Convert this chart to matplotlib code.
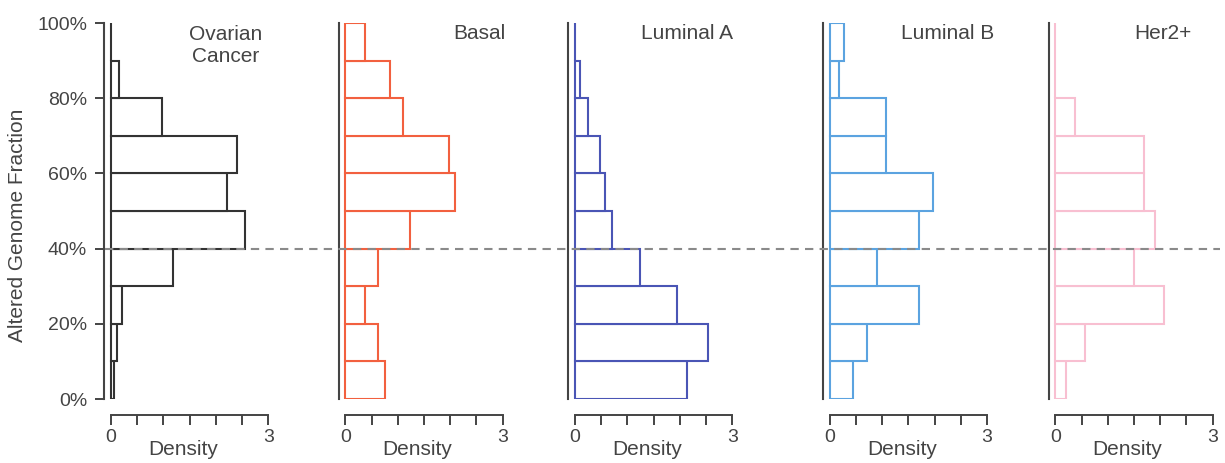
import numpy as np
import matplotlib
matplotlib.use("Agg")
import matplotlib.pyplot as plt
from matplotlib.lines import Line2D

plt.rcParams['font.family'] = ['Liberation Sans', 'DejaVu Sans']

# bins of altered genome fraction (%)
bin_edges = [0, 10, 20, 30, 40, 50, 60, 70, 80, 90, 100]

panel_names = ["Ovarian\nCancer", "Basal", "Luminal A", "Luminal B", "Her2+"]
panel_colors = ["#333333", "#f2603f", "#4a55b5", "#5ba3e0", "#f8bfd1"]

# density per bin, bottom (0-10%) to top (90-100%)
ovarian = [0.05, 0.11, 0.21, 1.19, 2.56, 2.21, 2.41, 0.98, 0.16, 0.0]
basal = [0.75, 0.62, 0.375, 0.62, 1.23, 2.09, 1.98, 1.11, 0.86, 0.375]
luminal_a = [2.14, 2.54, 1.95, 1.24, 0.71, 0.57, 0.48, 0.24, 0.09, 0.0]
luminal_b = [0.45, 0.72, 1.70, 0.90, 1.70, 1.98, 1.07, 1.07, 0.18, 0.28]
her2 = [0.20, 0.57, 2.08, 1.51, 1.90, 1.70, 1.70, 0.38, 0.0, 0.0]
panel_data = [ovarian, basal, luminal_a, luminal_b, her2]

threshold = 40

# layout (pixels)
W, H = 1225, 463
zero_px = [111, 345.3, 575, 829.7, 1055.3]
unit_px = 52.4
x_left = -0.125
top_px, bottom_px = 23, 399
title_x = [2.18, 2.55, 2.14, 2.26, 2.05]
title_y = [94.0, 97.3, 97.3, 97.3, 97.3]

txt = "#444444"
fig = plt.figure(figsize=(W / 100, H / 100), dpi=100)
axes = []
for i in range(5):
   left = (zero_px[i] + x_left * unit_px) / W
   width = (3 - x_left) * unit_px / W
   ax = fig.add_axes([left, (H - bottom_px) / H, width, (bottom_px - top_px) / H])
   axes.append(ax)
   vals = panel_data[i]
   ax.barh(bin_edges[:-1], vals, height=10, align='edge', color='white',
           edgecolor=panel_colors[i], linewidth=1.5)
   ax.set_xlim(x_left, 3)
   ax.set_ylim(0, 100)
   for s in ['top', 'right']:
      ax.spines[s].set_visible(False)
   ax.spines['left'].set_bounds(0, 100)
   ax.spines['left'].set_color(txt)
   ax.spines['left'].set_linewidth(1.5)
   ax.spines['bottom'].set_bounds(0, 3)
   ax.spines['bottom'].set_position(('outward', 11.5))
   ax.spines['bottom'].set_color(txt)
   ax.spines['bottom'].set_linewidth(1.4)
   ax.set_xticks(np.arange(0, 3.01, 0.5))
   ax.set_xticklabels(['0', '', '', '', '', '', '3'])
   ax.tick_params(axis='x', length=7, width=1.4, color=txt, labelcolor=txt,
                  labelsize=14, pad=3)
   ax.set_xlabel("Density", fontsize=15, color=txt, va='center')
   ax.xaxis.set_label_coords(0.48, -0.135)
   if i == 0:
      ax.set_yticks(np.arange(0, 101, 20))
      ax.set_yticklabels([f"{v}%" for v in range(0, 101, 20)])
      ax.tick_params(axis='y', length=6.5, width=1.4, color=txt, labelcolor=txt,
                     labelsize=14, pad=6)
   else:
      ax.set_yticks([])
   ax.text(title_x[i], title_y[i], panel_names[i], fontsize=15, color=txt,
           ha='center', va='center', linespacing=1.15)

fig.text(18 / W, 1 - 225 / H, "Altered Genome Fraction", rotation=90,
         fontsize=15, color=txt, ha='center', va='center')

# dashed threshold line across all panels
y_fig = fig.transFigure.inverted().transform(
   axes[0].transData.transform((0, threshold)))[1]
fig.add_artist(Line2D([105 / W, 1220 / W], [y_fig, y_fig], transform=fig.transFigure,
                      color='#8a8a8a', linestyle=(0, (4, 3)), linewidth=1.5))

fig.savefig("out.png", dpi=100)
